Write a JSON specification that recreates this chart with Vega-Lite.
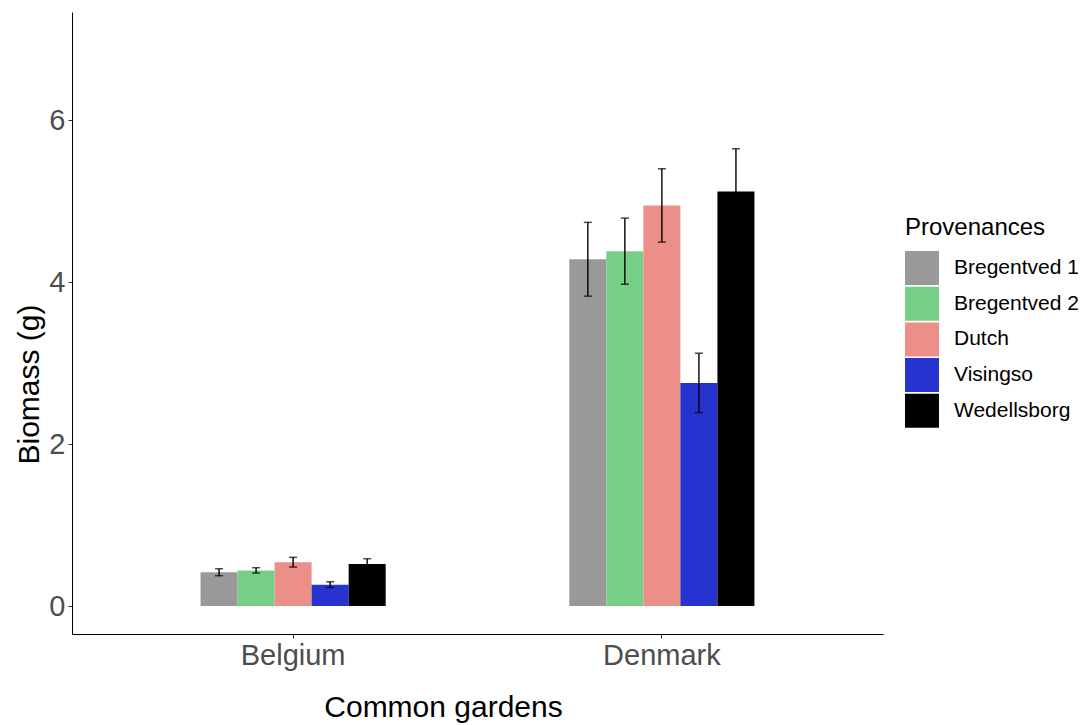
{
  "$schema": "https://vega.github.io/schema/vega-lite/v6.json",
  "width": 811,
  "height": 622,
  "autosize": {"type": "none"},
  "padding": {"left": 72, "top": 12, "right": 203, "bottom": 91},
  "background": "white",
  "config": {
    "view": {"stroke": null},
    "font": "Liberation Sans",
    "axis": {
      "grid": false,
      "domainColor": "black",
      "domainWidth": 1,
      "tickColor": "#333333",
      "tickSize": 4,
      "tickWidth": 1,
      "labelFont": "Liberation Sans",
      "labelFontSize": 29,
      "labelColor": "#4D4D4D",
      "titleFont": "Liberation Sans",
      "titleFontSize": 30,
      "titleFontWeight": "normal",
      "titleColor": "black"
    },
    "legend": {
      "orient": "none",
      "legendX": 833,
      "legendY": 204,
      "padding": 0,
      "titleFont": "Liberation Sans",
      "titleFontSize": 24,
      "titleFontWeight": "normal",
      "titleColor": "black",
      "titlePadding": 11,
      "labelFont": "Liberation Sans",
      "labelFontSize": 21,
      "labelColor": "black",
      "labelOffset": 15,
      "symbolType": "square",
      "symbolSize": 1156,
      "symbolStrokeWidth": 0,
      "symbolOpacity": 1,
      "rowPadding": 1.7
    }
  },
  "data": {
    "values": [
      {"garden": "Belgium", "prov": "Bregentved 1", "mean": 0.418, "lo": 0.375, "hi": 0.461},
      {"garden": "Belgium", "prov": "Bregentved 2", "mean": 0.441, "lo": 0.408, "hi": 0.474},
      {"garden": "Belgium", "prov": "Dutch", "mean": 0.542, "lo": 0.482, "hi": 0.602},
      {"garden": "Belgium", "prov": "Visingso", "mean": 0.265, "lo": 0.229, "hi": 0.301},
      {"garden": "Belgium", "prov": "Wedellsborg", "mean": 0.519, "lo": 0.453, "hi": 0.585},
      {"garden": "Denmark", "prov": "Bregentved 1", "mean": 4.285, "lo": 3.829, "hi": 4.741},
      {"garden": "Denmark", "prov": "Bregentved 2", "mean": 4.385, "lo": 3.977, "hi": 4.793},
      {"garden": "Denmark", "prov": "Dutch", "mean": 4.95, "lo": 4.497, "hi": 5.403},
      {"garden": "Denmark", "prov": "Visingso", "mean": 2.757, "lo": 2.39, "hi": 3.124},
      {"garden": "Denmark", "prov": "Wedellsborg", "mean": 5.123, "lo": 4.596, "hi": 5.65}
    ]
  },
  "encoding": {
    "x": {
      "field": "garden",
      "type": "nominal",
      "scale": {"paddingInner": 0.498, "paddingOuter": 0.3486},
      "axis": {
        "title": "Common gardens",
        "labelAngle": 0,
        "labelPadding": 3,
        "titleX": 371,
        "titleY": 82,
        "titleBaseline": "alphabetic",
        "titleAlign": "center"
      }
    },
    "xOffset": {
      "field": "prov",
      "type": "nominal",
      "scale": {"paddingInner": 0, "paddingOuter": 0}
    }
  },
  "layer": [
    {
      "mark": {"type": "bar"},
      "encoding": {
        "y": {
          "field": "mean",
          "type": "quantitative",
          "scale": {"domain": [-0.345, 7.34], "nice": false, "zero": false},
          "axis": {
            "title": "Biomass (g)",
            "values": [0, 2, 4, 6],
            "format": "d",
            "labelPadding": 3,
            "titleAngle": -90,
            "titleX": -34,
            "titleY": 372,
            "titleAlign": "center",
            "titleBaseline": "alphabetic"
          }
        },
        "y2": {"datum": 0},
        "color": {
          "field": "prov",
          "type": "nominal",
          "title": "Provenances",
          "scale": {
            "domain": ["Bregentved 1", "Bregentved 2", "Dutch", "Visingso", "Wedellsborg"],
            "range": ["#999999", "#77CE87", "#EC8F89", "#2633CF", "#000000"]
          }
        }
      }
    },
    {
      "mark": {"type": "rule", "color": "black", "strokeWidth": 1.4},
      "encoding": {
        "y": {"field": "lo", "type": "quantitative"},
        "y2": {"field": "hi"}
      }
    },
    {
      "mark": {"type": "tick", "color": "black", "size": 8, "thickness": 1.5},
      "encoding": {"y": {"field": "lo", "type": "quantitative"}}
    },
    {
      "mark": {"type": "tick", "color": "black", "size": 8, "thickness": 1.5},
      "encoding": {"y": {"field": "hi", "type": "quantitative"}}
    }
  ]
}
